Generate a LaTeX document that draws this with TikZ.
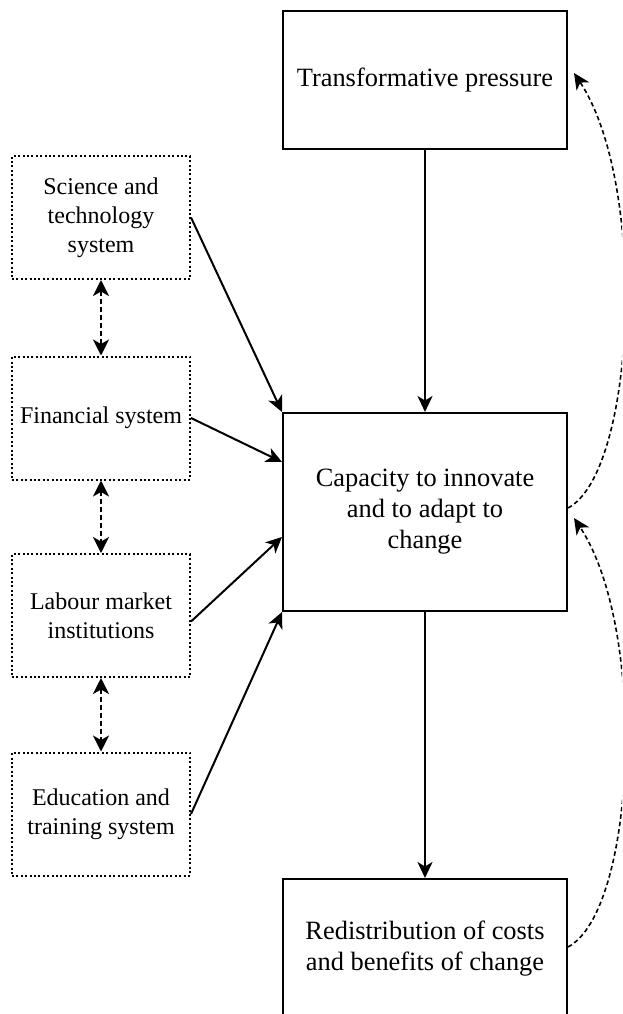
\documentclass[tikz,border=0pt]{standalone}
\usepackage{fontspec}
\setmainfont{Liberation Serif}
\usetikzlibrary{arrows.meta,calc}
\begin{document}
\begin{tikzpicture}[x=1pt,y=-1pt,
  solidbox/.style={draw, line width=2pt, minimum width=284pt, align=center, inner sep=2pt, font=\fontsize{26.4pt}{31pt}\selectfont},
  dotbox/.style={draw, line width=2pt, dash pattern=on 2pt off 2.4pt, minimum width=178pt, minimum height=123pt, align=center, inner sep=1pt, font=\fontsize{24pt}{29pt}\selectfont},
  arr/.style={line width=2pt, -{Stealth[length=16pt,width=15pt,inset=4.5pt]}},
  dblarr/.style={line width=2pt, dash pattern=on 5pt off 3pt, {Stealth[length=16pt,width=16pt,inset=4.5pt]}-{Stealth[length=16pt,width=16pt,inset=4.5pt]}},
  fb/.style={line width=1.6pt, dash pattern=on 4.5pt off 3pt, -{Stealth[length=16pt,width=15pt,inset=4.5pt]}}
]
\useasboundingbox (0,0) rectangle (622,1014);
\clip (0,0) rectangle (622,1014);

\node[solidbox, minimum height=138pt] (top) at (425,80) {Transformative pressure};
\node[solidbox, minimum height=198pt] (cap) at (425,512) {Capacity to innovate\\and to adapt to\\change};
\node[solidbox, minimum height=140pt] (redist) at (425,949) {Redistribution of costs\\and benefits of change};

\node[dotbox] (sci) at (101,217.5) {Science and\\technology\\system};
\node[dotbox] (fin) at (101,418) {Financial system};
\node[dotbox] (lab) at (101,615.5) {Labour market\\institutions};
\node[dotbox] (edu) at (101,814) {Education and\\training system};

\draw[arr] (top.south) -- (cap.north);
\draw[arr] (cap.south) -- (redist.north);

\draw[arr] (sci.east) -- (cap.north west);
\draw[arr] (fin.east) -- ([yshift=-50pt]cap.north west);
\draw[arr] ([yshift=-6pt]lab.east) -- ([yshift=-125pt]cap.north west);
\draw[arr] (edu.east) -- (cap.south west);

\draw[dblarr] (sci.south) -- (fin.north);
\draw[dblarr] (fin.south) -- (lab.north);
\draw[dblarr] (lab.south) -- (edu.north);

\coordinate (fbtopend) at ([xshift=6pt,yshift=7pt]top.east);
\coordinate (fbcapend) at ([xshift=6pt,yshift=-6pt]cap.east);
\draw[fb] ([yshift=4pt]cap.east) .. controls (636,472) and (648,185) .. (fbtopend);
\draw[fb] ([yshift=2pt]redist.east) .. controls (636,911) and (648,630) .. (fbcapend);
\end{tikzpicture}
\end{document}
